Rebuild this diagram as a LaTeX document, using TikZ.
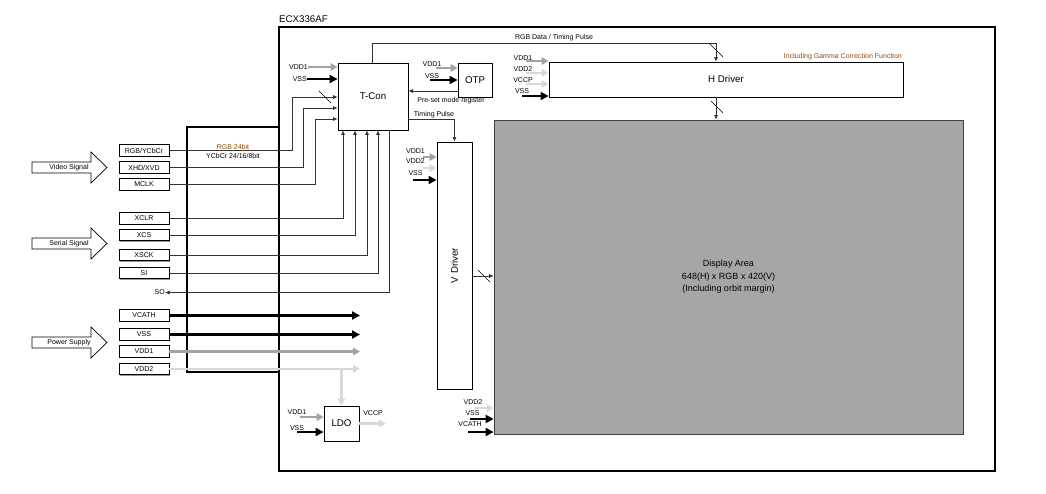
\documentclass[tikz,border=0pt]{standalone}
\usepackage{fontspec}
\setmainfont{Liberation Sans}
\usetikzlibrary{arrows.meta,shadows}
\definecolor{gA}{HTML}{A3A3A3}
\definecolor{gB}{HTML}{D8D8D8}
\definecolor{dispfill}{HTML}{A6A6A6}
\definecolor{brn}{HTML}{8A4A10}
\newcommand\fsS{\fontsize{7}{8}\selectfont}
\newcommand\fsB{\fontsize{9.7}{11}\selectfont}
\begin{document}
\begin{tikzpicture}[x=1pt,y=-1pt,
  lbl/.style={font=\fsS, inner sep=0pt},
  shd/.style={drop shadow={shadow xshift=1pt, shadow yshift=-1pt, fill=black!40, opacity=1}},
  sbox/.style={draw, line width=0.8pt, fill=white, minimum width=50pt, minimum height=11.5pt, inner sep=0pt, font=\fsS, shd},
  blk/.style={draw, line width=0.8pt, fill=white, inner sep=0pt, font=\fsB, shd},
  sig/.style={draw=black!80, line width=0.75pt},
  tip/.style={-{Latex[length=4.5pt,width=4pt]}},
  pblk/.style={black, line width=2.4pt, -{Triangle[length=8pt,width=8pt]}},
  pgA/.style={gA, line width=2.2pt, -{Triangle[length=7pt,width=7.5pt]}},
  pgB/.style={gB, line width=2.2pt, -{Triangle[length=7pt,width=7.5pt]}},
  slash/.style={line width=0.6pt},
  barrow/.style={draw, line width=0.7pt, fill=white}
]
\useasboundingbox (0,0) rectangle (1046,493);

% chip outline and bus box
\node[draw, line width=1.3pt, minimum width=716pt, minimum height=444pt, inner sep=0pt] (chip) at (637,249) {};
\node[anchor=south west, font=\fsB, inner sep=0pt] (chipname) at (279,23) {ECX336AF};
\node[draw, line width=1.6pt, minimum width=92pt, minimum height=245pt, inner sep=0pt] (bus) at (233,249.5) {};

% display and blocks
\node[draw=black!75, line width=0.8pt, fill=dispfill, minimum width=469pt, minimum height=314pt, inner sep=0pt, align=center, font=\fontsize{9}{12.5}\selectfont] (disp) at (728.5,277) {Display Area\\648(H) x RGB x 420(V)\\(Including orbit margin)};
\node[blk, minimum width=70pt, minimum height=67pt] (tcon) at (373,96.5) {T-Con};
\node[blk, minimum width=34pt, minimum height=34pt] (otp) at (475,80) {OTP};
\node[blk, minimum width=354pt, minimum height=35pt] (hdrv) at (726,79.5) {H Driver};
\node[blk, minimum width=35pt, minimum height=247pt] (vdrv) at (454.5,265.5) {};
\node[font=\fsB, rotate=90, inner sep=0pt] (vlab) at (vdrv.center) {V Driver};
\node[blk, minimum width=35pt, minimum height=35pt] (ldo) at (341.5,423.5) {LDO};

% signal boxes
\node[sbox] (rgb)   at (144,150.5) {RGB/YCbCr};
\node[sbox] (xhd)   at (144,167.5) {XHD/XVD};
\node[sbox] (mclk)  at (144,184.5) {MCLK};
\node[sbox] (xclr)  at (144,218.5) {XCLR};
\node[sbox] (xcs)   at (144,235) {XCS};
\node[sbox] (xsck)  at (144,255) {XSCK};
\node[sbox] (si)    at (144,273) {SI};
\node[lbl, anchor=east] (so) at (165,292.5) {SO};
\node[sbox] (vcath) at (144,315.5) {VCATH};
\node[sbox] (vss)   at (144,334.5) {VSS};
\node[sbox] (vdda)  at (144,351.5) {VDD1};
\node[sbox] (vddb)  at (144,369) {VDD2};

% block arrows
\draw[barrow] (32,162) -- (91,162) -- (91,152) -- (107,167.5) -- (91,183) -- (91,173) -- (32,173) -- cycle;
\node[lbl] (video) at (69,167.5) {Video Signal};
\draw[barrow] (32,238) -- (91,238) -- (91,228) -- (107,243.5) -- (91,259) -- (91,249) -- (32,249) -- cycle;
\node[lbl] (serial) at (69,243.5) {Serial Signal};
\draw[barrow] (32,337) -- (91,337) -- (91,327) -- (107,342.5) -- (91,358) -- (91,348) -- (32,348) -- cycle;
\node[lbl] (power) at (69,342.5) {Power Supply};

% bus labels
\node[lbl, text=brn] (rgb24) at (233,147) {RGB 24bit};
\node[lbl] (ycbcr) at (233,156) {YCbCr 24/16/8bit};

% signal connectors to T-Con
\draw[sig,tip] (rgb.east) -| (292,97) -- (tcon.west |- 0,97);
\draw[sig,tip] (xhd.east) -| (303,108) -- (tcon.west |- 0,108);
\draw[sig,tip] (mclk.east) -| (315,119) -- (tcon.west |- 0,119);
\draw[slash] (319,91) -- (331,103);
\draw[sig,tip] (xclr.east) -| (tcon.south -| 343,0);
\draw[sig,tip] (xcs.east) -| (tcon.south -| 355,0);
\draw[sig,tip] (xsck.east) -| (tcon.south -| 367,0);
\draw[sig,tip] (si.east) -| (tcon.south -| 378,0);
\draw[sig,tip] (tcon.south -| 389,0) |- (so.east);

% power lines
\coordinate (pend) at (360,0);
\draw[pblk] (vcath.east) -- (vcath.east -| pend);
\draw[pblk] (vss.east) -- (vss.east -| pend);
\draw[pgA] (vdda.east) -- (vdda.east -| pend);
\draw[pgB] (vddb.east) -- (vddb.east -| pend);
\draw[pgB] (ldo.north |- vddb.east) -- (ldo.north);

% T-Con power inputs
\node[lbl, anchor=east] (tv1) at (308,67) {VDD1};
\draw[pgA] (tv1.east) -- (tcon.west |- tv1.east);
\node[lbl, anchor=east] (tvs) at (307,79) {VSS};
\draw[pblk] (tvs.east) -- (tcon.west |- tvs.east);

% OTP
\node[lbl] (ov1) at (432,64) {VDD1};
\coordinate (ov1s) at (436,68);
\draw[pgA] (ov1s) -- (otp.west |- ov1s);
\node[lbl] (ovs) at (432,76) {VSS};
\coordinate (ovss) at (430,80);
\draw[pblk] (ovss) -- (otp.west |- ovss);
\draw[sig,tip] (otp.west |- 0,91) -- (tcon.east |- 0,91);
\node[lbl] (preset) at (451,101) {Pre-set mode register};

% RGB data / timing pulse to H driver
\draw[sig,tip] (tcon.north -| 372,0) |- (716,43) -- (hdrv.north -| 716,0);
\node[lbl] (rgbdata) at (554,38) {RGB Data / Timing Pulse};
\draw[slash] (710,44) -- (723,57);
\node[lbl, anchor=east, text=brn] (gamma) at (902,57) {Including Gamma Correction Function};

% H driver power inputs
\node[lbl] (hv1) at (523,58) {VDD1};
\coordinate (hv1s) at (526,61);
\draw[pgA] (hv1s) -- (hdrv.west |- hv1s);
\node[lbl] (hv2) at (523,69) {VDD2};
\coordinate (hv2s) at (526,73);
\draw[pgB] (hv2s) -- (hdrv.west |- hv2s);
\node[lbl] (hvc) at (523,80) {VCCP};
\coordinate (hvcs) at (526,84);
\draw[pgB] (hvcs) -- (hdrv.west |- hvcs);
\node[lbl] (hvs) at (522,91) {VSS};
\coordinate (hvss) at (522,96);
\draw[pblk] (hvss) -- (hdrv.west |- hvss);

% H driver to display
\draw[sig,tip] (hdrv.south -| 716,0) -- (disp.north -| 716,0);
\draw[slash] (711,101) -- (723,113);

% timing pulse to V driver
\draw[sig,tip] (tcon.east |- 0,119) -| (vdrv.north);
\node[lbl] (tpulse) at (434,115) {Timing Pulse};

% V driver power inputs
\node[lbl] (vv1) at (415.5,151) {VDD1};
\coordinate (vv1s) at (423,157);
\draw[pgA] (vv1s) -- (vdrv.west |- vv1s);
\node[lbl] (vv2) at (415.5,161.5) {VDD2};
\coordinate (vv2s) at (423,168);
\draw[pgB] (vv2s) -- (vdrv.west |- vv2s);
\node[lbl] (vvs) at (415.5,173) {VSS};
\coordinate (vvss) at (413,180);
\draw[pblk] (vvss) -- (vdrv.west |- vvss);

% V driver to display
\draw[sig,tip] (vdrv.east |- 0,276) -- (disp.west |- 0,276);
\draw[slash] (478,270) -- (490,282);

% display power inputs
\node[lbl] (dv2) at (473,402) {VDD2};
\coordinate (dv2s) at (475,408);
\draw[pgB] (dv2s) -- (disp.west |- dv2s);
\node[lbl] (dvs) at (472.5,413) {VSS};
\coordinate (dvss) at (470,419);
\draw[pblk] (dvss) -- (disp.west |- dvss);
\node[lbl] (dvc) at (470,424) {VCATH};
\coordinate (dvcs) at (468,432);
\draw[pblk] (dvcs) -- (disp.west |- dvcs);

% LDO
\node[lbl] (lv1) at (297,412.5) {VDD1};
\coordinate (lv1s) at (300,417);
\draw[pgA] (lv1s) -- (ldo.west |- lv1s);
\node[lbl] (lvs) at (297,428) {VSS};
\coordinate (lvss) at (297,432);
\draw[pblk] (lvss) -- (ldo.west |- lvss);
\coordinate (lout) at (386,0);
\draw[pgB] (ldo.east) -- (ldo.east -| lout);
\node[lbl] (lvc) at (373,413.5) {VCCP};

\end{tikzpicture}
\end{document}
